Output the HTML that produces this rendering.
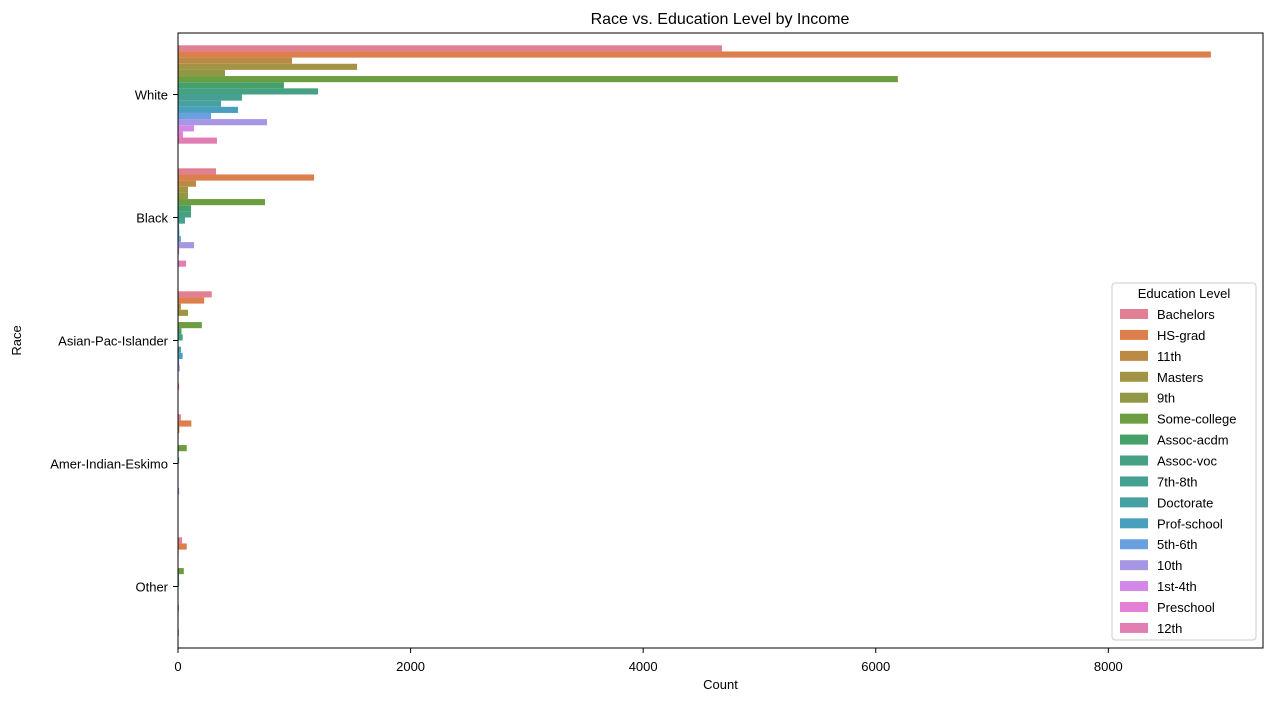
<!DOCTYPE html>
<html><head><meta charset="utf-8"><style>
body{margin:0;background:#fff;font-family:"Liberation Sans","DejaVu Sans",sans-serif;}
svg text{font-family:"Liberation Sans","DejaVu Sans",sans-serif;fill:#000;}
</style></head><body>
<svg id="chart" width="1273" height="701" xmlns="http://www.w3.org/2000/svg">
<rect width="1273" height="701" fill="#fff"/>
<text x="720" y="24" font-size="16" text-anchor="middle">Race vs. Education Level by Income</text>
<g id="bars"></g>
<g id="axes"></g>
<g id="legend"></g>
</svg>
<script>
const races = ["White","Black","Asian-Pac-Islander","Amer-Indian-Eskimo","Other"];
const levels = ["Bachelors","HS-grad","11th","Masters","9th","Some-college","Assoc-acdm","Assoc-voc","7th-8th","Doctorate","Prof-school","5th-6th","10th","1st-4th","Preschool","12th"];
const colors = ["#e17f93","#dd7f4c","#bb8a45","#a39344","#909846","#6d9d41","#46a06a","#45a084","#45a091","#47a0a1","#4b9fbe","#6ba0e0","#a796e4","#d388e8","#e37fd4","#e17fb4"];
const valWhite = [4678,8882,980,1540,404,6190,911,1204,550,370,516,284,765,138,43,335];
const valBlack = [327,1170,155,86,86,748,112,112,60,10,12,25,138,10,0,70];
const valAsian = [290,225,25,86,5,205,30,40,5,25,40,10,15,3,2,10];
const valAmer = [25,115,12,5,3,75,5,10,3,2,2,2,10,2,0,3];
const valOther = [35,75,5,3,3,50,8,10,3,2,3,8,5,2,0,8];
const seriesByRace = [valWhite,valBlack,valAsian,valAmer,valOther];
const xTicks = [0,2000,4000,6000,8000];

const NS="http://www.w3.org/2000/svg";
const L=178,R=1263,T=33,B=648;
const xMax=9330;
const x=v=>L+v/xMax*(R-L);
const band=(B-T)/races.length;
const yC=i=>T+band*(i+0.5);
const bw=band*0.8/levels.length;
function mk(tag,attrs,parent){const e=document.createElementNS(NS,tag);for(const k in attrs)e.setAttribute(k,attrs[k]);parent.appendChild(e);return e;}
const gb=document.getElementById('bars'),ga=document.getElementById('axes'),gl=document.getElementById('legend');
races.forEach((r,i)=>{
  levels.forEach((lv,j)=>{
    const v=seriesByRace[i][j];
    const y0=yC(i)-band*0.4+j*bw;
    const rect=mk('rect',{x:x(0),y:y0,width:Math.max(0,x(v)-x(0)),height:bw,fill:colors[j]},gb);
    
    
  });
  mk('line',{x1:L-5,x2:L,y1:yC(i),y2:yC(i),stroke:'#000','stroke-width':1},ga);
  const t=mk('text',{x:L-10,y:yC(i)+5,'font-size':13,'text-anchor':'end'},ga);
  t.textContent=r;
  
  
});
xTicks.forEach(v=>{
  mk('line',{x1:x(v),x2:x(v),y1:B,y2:B+5,stroke:'#000','stroke-width':1},ga);
  const t=mk('text',{x:x(v),y:B+23,'font-size':13,'text-anchor':'middle'},ga);
  t.textContent=v;
  
  
});
mk('rect',{x:L,y:T,width:R-L,height:B-T,fill:'none',stroke:'#000','stroke-width':1},ga);
const xl=mk('text',{x:(L+R)/2,y:689,'font-size':13,'text-anchor':'middle'},ga);xl.textContent='Count';


const yl=mk('text',{x:0,y:0,'font-size':13,'text-anchor':'middle',transform:'translate(21,'+((T+B)/2)+') rotate(-90)'},ga);yl.textContent='Race';


const lb=mk('rect',{x:1112,y:283,width:144,height:357,rx:3,fill:'#fff','fill-opacity':0.8,stroke:'#ccc'},gl);


const lt=mk('text',{x:1184,y:298,'font-size':13,'text-anchor':'middle'},gl);lt.textContent='Education Level';


levels.forEach((lv,j)=>{
  const yy=314+j*20.93;
  const g=mk('g',{},gl);
  
  
  mk('rect',{x:1120,y:yy-5,width:28,height:10,fill:colors[j]},g);
  const t=mk('text',{x:1157,y:yy+5,'font-size':13},g);t.textContent=lv;
});
</script>
</body></html>
